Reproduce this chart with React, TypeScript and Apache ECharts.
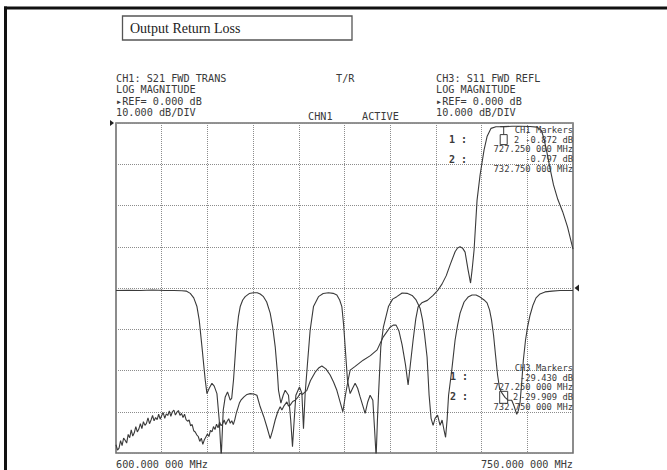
import React, { useEffect, useRef } from "react";
import * as echarts from "echarts";

// ---- Data ----
const FREQ_MIN = 600;
const FREQ_MAX = 750;
const FREQ_STEP = 15;
const FREQ_LABELS = ["600.000 000 MHz", "750.000 000 MHz"];

const TITLE = "Output Return Loss";
const CH1_HEADER = ["CH1: S21 FWD TRANS", "LOG MAGNITUDE", "\u25B8REF= 0.000 dB", "10.000 dB/DIV"];
const CH3_HEADER = ["CH3: S11 FWD REFL", "LOG MAGNITUDE", "\u25B8REF= 0.000 dB", "10.000 dB/DIV"];
const STATUS_TEXT = ["T/R", "CHN1", "ACTIVE"];

const MARKER_FREQS = [727.25, 732.75];
const CH1_MARKER_DB = [-0.872, -0.797];
const CH3_MARKER_DB = [-29.43, -29.909];

// CH1 : S21 (dB, ref 0 dB at top, 10 dB/div)
const S21_NOISE: [number, number][] = [
  [600.0, -78.0], [600.5, -79.3], [601.0, -78.8], [601.5, -77.0], [602.0, -78.2], [602.5, -76.4],
  [603.0, -76.9], [603.5, -77.6], [604.0, -75.5], [604.5, -76.3], [605.0, -74.4], [605.5, -75.9],
  [606.0, -75.1], [606.5, -73.6], [607.0, -74.9], [607.5, -74.2], [608.0, -72.9], [608.5, -74.1],
  [609.0, -72.4], [609.5, -73.3], [610.0, -72.8], [610.5, -71.5], [611.0, -72.9], [611.5, -72.0],
  [612.0, -70.9], [612.5, -72.2], [613.0, -71.4], [613.5, -71.9], [614.0, -70.6], [614.5, -71.8],
  [615.0, -70.9], [615.5, -70.2], [616.0, -71.6], [616.5, -70.5], [617.0, -70.9], [617.5, -69.8],
  [618.0, -71.1], [618.5, -70.0], [619.0, -69.6], [619.5, -70.8], [620.0, -70.1], [620.5, -69.7],
  [621.0, -70.9], [621.5, -70.4], [622.0, -71.4], [622.5, -70.6], [623.0, -71.9], [623.5, -72.3],
  [624.0, -72.0], [624.5, -73.4], [625.0, -73.1], [625.5, -74.6], [626.0, -74.9], [626.5, -75.6],
  [627.0, -76.0], [627.5, -77.2], [628.0, -76.4], [628.5, -77.9], [629.0, -76.8], [629.5, -76.1],
  [630.0, -75.4], [630.5, -76.0], [631.0, -74.5], [631.5, -74.9], [632.0, -73.6], [632.5, -74.3],
  [633.0, -73.0], [633.5, -73.9], [634.0, -72.5], [634.5, -73.4], [635.0, -72.9], [635.5, -72.0],
  [636.0, -73.1], [636.5, -72.3], [637.0, -71.7], [637.5, -72.8], [638.0, -72.2], [638.5, -73.1],
  [639.0, -71.9], [639.5, -70.3], [640.0, -69.1], [640.5, -67.9], [641.0, -67.2],
];
const S21_REST: [number, number][] = [
  [642.0, -66.4], [643.0, -65.8], [644.05, -65.6], [645.2, -65.7], [646.25, -66.0], [647.33, -68.8],
  [648.5, -71.2], [649.53, -73.7], [650.61, -76.5], [651.4, -74.5], [652.25, -72.0], [653.1, -70.0],
  [653.89, -68.8], [654.45, -69.6], [655.2, -68.5], [656.09, -67.6], [656.6, -68.6], [657.17, -68.4],
  [658.0, -67.5], [658.81, -67.2], [659.6, -66.6], [660.45, -65.5], [661.2, -65.8], [662.09, -65.2],
  [662.65, -64.8], [663.8, -62.5], [665.37, -60.4], [666.5, -59.4], [667.57, -58.9], [668.9, -59.6],
  [670.29, -61.1], [671.4, -62.8], [672.49, -64.8], [673.5, -67.5], [674.46, -70.0], [675.3, -66.0],
  [676.2, -62.3], [676.86, -59.9], [678.5, -59.0], [681.12, -57.5], [683.5, -56.4], [685.71, -55.0],
  [687.68, -51.9], [689.98, -49.5], [691.0, -49.0], [691.94, -49.0], [692.9, -50.5], [693.91, -53.8],
  [695.0, -58.5], [695.88, -63.5], [696.7, -58.0], [697.52, -52.6], [698.4, -47.5], [699.16, -44.6],
  [700.37, -43.6], [702.2, -43.0], [704.08, -41.8], [705.6, -40.6], [707.03, -39.0], [708.4, -37.0],
  [709.66, -34.4], [711.3, -31.2], [712.1, -30.3], [712.94, -30.0], [713.8, -30.4], [714.58, -31.3],
  [715.56, -35.6], [716.38, -38.8], [716.9, -35.5], [717.53, -30.8], [718.51, -18.7], [719.5, -12.6],
  [720.81, -6.5], [721.79, -3.3], [723.1, -1.3], [724.7, -0.9], [727.25, -0.87], [730.0, -0.8],
  [732.75, -0.8], [735.9, -0.85], [738.2, -1.0], [739.6, -1.8], [740.4, -3.6], [741.4, -7.0],
  [742.6, -11.5], [743.6, -15.0], [745.0, -18.5], [746.6, -21.5], [748.2, -25.2], [750.0, -30.6],
];

// CH3 : S11 (dB, ref 0 dB at centre line, 10 dB/div)
const S11_TRACE: [number, number][] = [
  [600, -0.6], [604, -0.55], [608, -0.6], [612, -0.5], [616, -0.6], [619, -0.6], [621.65, -0.65],
  [623.06, -0.75], [624.37, -1.3], [625.52, -2.4], [626.57, -4.5], [627.32, -7.8], [628.21, -14.2],
  [628.8, -18.7], [629.29, -22.3], [629.85, -25.6], [630.6, -24.3], [631.49, -23.1], [632.24, -23.8],
  [633.13, -25.6], [633.88, -32.0], [634.54, -41], [635.2, -29.6], [635.85, -26.4], [636.61, -25.2],
  [637.49, -27.2], [637.98, -26.7], [638.57, -22.3], [639.13, -16.3], [639.69, -10.2], [640.21, -6.8],
  [640.77, -4.5], [641.59, -2.9], [642.41, -2.1], [643.72, -1.35], [645.13, -1.15], [646.35, -1.15],
  [647.33, -1.45], [648.41, -2.1], [649.46, -3.4], [650.61, -6.1], [651.43, -9.5], [652.25, -14.2],
  [652.91, -19.9], [653.34, -24.8], [654.12, -27.9], [654.88, -26.0], [655.53, -24.8], [656.62, -26.0],
  [657.34, -32.0], [657.93, -38.5], [658.49, -32.0], [659.04, -26.0], [660.22, -24.0], [661.01, -25.5],
  [661.54, -34.1], [662.09, -25.5], [662.85, -18.3], [663.73, -10.2], [664.82, -4.5], [666.46, -2.1],
  [668.0, -1.35], [669.74, -1.15], [671.28, -1.3], [672.49, -1.7], [673.41, -2.9], [674.13, -4.5],
  [674.72, -9.0], [675.21, -14.2], [675.97, -22.3], [676.85, -25.6], [677.67, -24.3], [678.49, -23.1],
  [679.31, -24.3], [680.13, -26.4], [680.95, -28.4], [681.77, -30.4], [682.59, -27.7], [683.41, -26.0],
  [684.3, -27.2], [684.89, -34.5], [685.38, -41], [685.81, -32.0], [686.13, -26.4], [686.92, -14.2],
  [687.78, -9.4], [689.42, -4.5], [690.79, -2.7], [692.17, -2.1], [693.91, -1.2], [695.55, -1.3],
  [697.19, -1.8], [698.5, -2.9], [699.81, -4.9], [700.63, -7.8], [701.29, -11.4], [702.11, -16.8],
  [702.77, -26.0], [703.42, -31.6], [704.08, -33.3], [704.73, -31.6], [705.55, -30.8], [706.37, -33.3],
  [707.03, -32.0], [707.69, -34.5], [708.18, -36.2], [708.67, -32.0], [709.16, -26.0], [710.21, -19.9],
  [711.3, -12.6], [712.12, -9.0], [712.94, -6.1], [714.25, -3.4], [715.56, -2.2], [716.87, -1.7],
  [718.18, -1.7], [719.5, -2.2], [720.81, -2.9], [721.79, -3.6], [722.61, -5.3], [723.27, -7.8],
  [723.92, -11.4], [724.58, -16.3], [725.24, -21.1], [725.89, -24.3], [726.71, -25.5], [727.69, -26.5],
  [728.68, -27.2], [729.89, -27.2], [730.65, -28.6], [731.53, -30.6], [732.12, -29.6], [732.62, -27.7],
  [733.11, -23.5], [733.7, -17.5], [734.42, -12.6], [735.08, -9.5], [735.9, -6.6], [736.88, -4.1],
  [737.87, -2.4], [739.18, -1.45], [740.82, -0.95], [743.12, -0.75], [745.74, -0.6], [750, -0.6],
];

const INK = "#3a3a3a";
const MONO = "DejaVu Sans Mono";

function fmtDb(v: number) {
  return v.toFixed(3) + " dB";
}
function fmtMHz(f: number) {
  return f.toFixed(3) + " 000 MHz";
}

export default function App() {
  const ref = useRef<HTMLDivElement>(null);

  useEffect(() => {
    const chart = echarts.init(ref.current!, null, { renderer: "svg" });
    const gridLine = { show: true, lineStyle: { type: "dotted", color: "#8c8c8c", width: 1 } };
    chart.setOption({
      animation: false,
      grid: {
        left: 116, top: 123, width: 457, height: 330, show: true,
        borderColor: "#707070", borderWidth: 1.6, backgroundColor: "transparent",
      },
      xAxis: {
        type: "value", min: FREQ_MIN, max: FREQ_MAX, interval: FREQ_STEP,
        axisLine: { show: false }, axisTick: { show: false }, axisLabel: { show: false },
        splitLine: gridLine,
      },
      yAxis: [
        {
          type: "value", min: -80, max: 0, interval: 10,
          axisLine: { show: false }, axisTick: { show: false }, axisLabel: { show: false },
          splitLine: gridLine,
        },
        {
          type: "value", min: -40, max: 40, interval: 10, show: false,
          splitLine: { show: false },
        },
      ],
      series: [
        {
          type: "line", yAxisIndex: 0, data: [...S21_NOISE, ...S21_REST], symbol: "none",
          lineStyle: { color: INK, width: 1.1 }, clip: true,
        },
        {
          type: "line", yAxisIndex: 1, data: S11_TRACE, symbol: "none",
          lineStyle: { color: INK, width: 1.1 }, clip: true,
        },
      ],
    });

    const px = (f: number, v: number, yi: number) =>
      chart.convertToPixel({ xAxisIndex: 0, yAxisIndex: yi }, [f, v]) as number[];

    const txt = (x: number, y: number, text: string, size = 10.2, align = "left", extra: any = {}) => ({
      type: "text", x, y, silent: true,
      style: {
        text, fontFamily: MONO, fontSize: size, fill: INK,
        textAlign: align, textVerticalAlign: "middle", verticalAlign: "middle", ...extra,
      },
    });

    const els: any[] = [];
    // page frame
    els.push({ type: "line", shape: { x1: 4, y1: 8, x2: 667, y2: 8 }, style: { stroke: "#111", lineWidth: 3 } });
    els.push({ type: "line", shape: { x1: 5.5, y1: 6.5, x2: 5.5, y2: 470 }, style: { stroke: "#111", lineWidth: 3 } });
    // title box
    els.push({ type: "rect", shape: { x: 122.5, y: 16, width: 229.5, height: 24 }, style: { fill: "none", stroke: "#555", lineWidth: 1.3 } });
    els.push({
      type: "text", x: 130, y: 28.5,
      style: { text: TITLE, fontFamily: "Liberation Serif", fontSize: 14, fill: "#222", textVerticalAlign: "middle", verticalAlign: "middle" },
    });
    // headers
    const lineYs = [78, 89.5, 101, 112.5];
    CH1_HEADER.forEach((t, i) => els.push(txt(116, lineYs[i], t)));
    CH3_HEADER.forEach((t, i) => els.push(txt(436, lineYs[i], t)));
    els.push(txt(336, 78, STATUS_TEXT[0]));
    els.push(txt(308, 116.5, STATUS_TEXT[1]));
    els.push(txt(362, 116.5, STATUS_TEXT[2]));
    // frequency labels
    const [lx, ly] = px(FREQ_MIN, -80, 0);
    const [rx] = px(FREQ_MAX, -80, 0);
    els.push(txt(lx, ly + 11.5, FREQ_LABELS[0]));
    els.push(txt(rx, ly + 11.5, FREQ_LABELS[1], 10.2, "right"));
    // reference arrows
    const [, ref1y] = px(FREQ_MIN, 0, 0);
    els.push({ type: "polygon", shape: { points: [[110, ref1y - 3], [114, ref1y], [110, ref1y + 3]] }, style: { fill: "#222" } });
    const [, ref3y] = px(FREQ_MAX, 0, 1);
    els.push({ type: "polygon", shape: { points: [[579, ref3y - 3.5], [574.5, ref3y], [579, ref3y + 3.5]] }, style: { fill: "#222" } });

    // CH1 marker readout
    const mkRows1 = [130, 139.5, 149, 159.3, 168.7];
    els.push(txt(rx, mkRows1[0], "CH1 Markers", 8.8, "right"));
    els.push(txt(rx, mkRows1[1], fmtDb(CH1_MARKER_DB[0]), 8.8, "right"));
    els.push(txt(rx, mkRows1[2], fmtMHz(MARKER_FREQS[0]), 8.8, "right"));
    els.push(txt(rx, mkRows1[3], fmtDb(CH1_MARKER_DB[1]), 8.8, "right"));
    els.push(txt(rx, mkRows1[4], fmtMHz(MARKER_FREQS[1]), 8.8, "right"));
    els.push(txt(449, 139.3, "1 :", 10, "left", { fontWeight: "bold" }));
    els.push(txt(449, 159.3, "2 :", 10, "left", { fontWeight: "bold" }));
    // CH3 marker readout
    const mkRows3 = [368.3, 377.7, 386.7, 397.3, 406.7];
    els.push(txt(rx, mkRows3[0], "CH3 Markers", 8.8, "right"));
    els.push(txt(rx, mkRows3[1], fmtDb(CH3_MARKER_DB[0]), 8.8, "right"));
    els.push(txt(rx, mkRows3[2], fmtMHz(MARKER_FREQS[0]), 8.8, "right"));
    els.push(txt(rx, mkRows3[3], fmtDb(CH3_MARKER_DB[1]), 8.8, "right"));
    els.push(txt(rx, mkRows3[4], fmtMHz(MARKER_FREQS[1]), 8.8, "right"));
    els.push(txt(450, 376.5, "1 :", 10, "left", { fontWeight: "bold" }));
    els.push(txt(450, 396.7, "2 :", 10, "left", { fontWeight: "bold" }));

    // marker symbols on traces
    const [m1x, m1y] = px(MARKER_FREQS[0], CH1_MARKER_DB[0], 0);
    els.push({ type: "line", shape: { x1: m1x - 3.5, y1: m1y, x2: m1x + 3.5, y2: m1y }, style: { stroke: INK, lineWidth: 1 } });
    els.push({ type: "line", shape: { x1: m1x, y1: m1y, x2: m1x, y2: m1y + 8 }, style: { stroke: INK, lineWidth: 1 } });
    els.push({ type: "rect", shape: { x: m1x - 3.5, y: m1y + 8, width: 7, height: 10 }, style: { fill: "none", stroke: INK, lineWidth: 1 } });
    const [m2x] = px(MARKER_FREQS[1], CH1_MARKER_DB[1], 0);
    els.push(txt(m2x - 4, mkRows1[1], "2", 8.5, "center"));
    const s11At = (f: number) => {
      let best = S11_TRACE[0];
      S11_TRACE.forEach((p) => { if (Math.abs(p[0] - f) < Math.abs(best[0] - f)) best = p; });
      return best[1];
    };
    const [c1x, c1y] = px(MARKER_FREQS[0], s11At(MARKER_FREQS[0]), 1);
    els.push({ type: "rect", shape: { x: c1x - 4, y: c1y - 6, width: 8, height: 12 }, style: { fill: "none", stroke: INK, lineWidth: 1 } });
    const [c2x] = px(MARKER_FREQS[1], s11At(MARKER_FREQS[1]), 1);
    els.push(txt(c2x - 5, mkRows3[3], "2", 8.5, "center"));

    chart.setOption({ graphic: els });
    return () => chart.dispose();
  }, []);

  return (
    <div
      ref={ref}
      style={{ position: "absolute", left: 0, top: 0, width: 667, height: 470, background: "#fff" }}
    />
  );
}
